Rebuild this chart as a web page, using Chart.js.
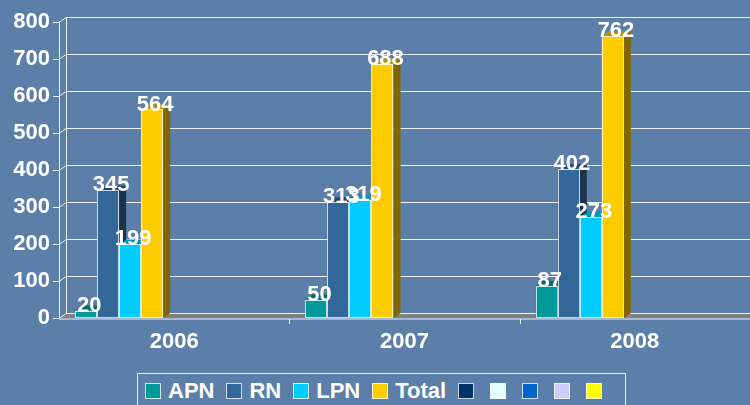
<!DOCTYPE html>
<html>
<head>
<meta charset="utf-8">
<script src="https://cdn.jsdelivr.net/npm/chart.js@4/dist/chart.umd.min.js"></script>
<style>
  html, body { margin: 0; padding: 0; }
  body { width: 750px; height: 405px; overflow: hidden; background: #5b7fa8; position: relative;
         font-family: "Liberation Sans", Arial, sans-serif; }
  #wrap { position: absolute; left: 0; top: 0; width: 750px; height: 360px; }
  #legend { position: absolute; left: 137px; top: 373px; width: 489px; height: 40px;
            border: 1px solid rgba(255,255,255,0.85); box-sizing: border-box;
            display: flex; align-items: flex-start; padding: 9px 0 0 7px; }
  .lg-item { display: flex; align-items: center; margin-right: 12px; }
  .lg-item.empty { margin-right: 16px; }
  .lg-box { width: 14px; height: 14px; border: 1px solid rgba(255,255,255,0.8); }
  .lg-text { margin-left: 7px; color: #fff; font-weight: bold; font-size: 22px; line-height: 16px; }
</style>
</head>
<body>
<div id="wrap"><canvas id="chart"></canvas></div>
<div id="legend"></div>
<script>
/* ── Datos ── */
var years     = ['2006', '2007', '2008'];
var seriesNames = ['APN', 'RN', 'LPN', 'Total', '', '', '', '', ''];
var apn       = [20, 50, 87];
var rn        = [345, 313, 402];
var lpn       = [199, 319, 273];
var total     = [564, 688, 762];
var emptyVals = [null, null, null];
var yTicks    = [0, 100, 200, 300, 400, 500, 600, 700, 800];

var seriesColors = ['#009999', '#336699', '#00ccff', '#ffcc00', '#003366', '#e0ffff', '#0066cc', '#ccccff', '#ffff00'];
var seriesData   = [apn, rn, lpn, total, emptyVals, emptyVals, emptyVals, emptyVals, emptyVals];

var DX = 7, DY = 5;

function shade(hex, f) {
  var n = parseInt(hex.slice(1), 16);
  var r = Math.round(((n >> 16) & 255) * f), g = Math.round(((n >> 8) & 255) * f), b = Math.round((n & 255) * f);
  return 'rgb(' + r + ',' + g + ',' + b + ')';
}

/* ── Pared, piso y eje 3D ── */
var wallPlugin = {
  id: 'wall',
  beforeDatasetsDraw: function(chart) {
    var c = chart.ctx, a = chart.chartArea, y = chart.scales.y;
    var x0 = a.left;
    c.save();
    /* piso */
    var yb = y.getPixelForValue(0);
    c.fillStyle = '#808080';
    c.beginPath();
    c.moveTo(x0, yb); c.lineTo(x0 + DX, yb - DY); c.lineTo(a.right, yb - DY); c.lineTo(a.right, yb);
    c.closePath(); c.fill();
    c.strokeStyle = 'rgba(255,255,255,0.9)';
    c.lineWidth = 1;
    yTicks.forEach(function(v) {
      var py = Math.round(y.getPixelForValue(v)) + 0.5;
      c.beginPath();
      c.moveTo(x0 - 6, py); c.lineTo(x0, py);
      c.lineTo(x0 + DX, py - DY); c.lineTo(a.right, py - DY);
      c.stroke();
    });
    /* líneas verticales del eje */
    var yt = Math.round(y.getPixelForValue(800)) + 0.5;
    c.beginPath();
    c.moveTo(x0 + 0.5, yb + 0.5); c.lineTo(x0 + 0.5, yt);
    c.moveTo(x0 + DX + 0.5, yb - DY); c.lineTo(x0 + DX + 0.5, yt - DY);
    c.moveTo(x0, yb + 1); c.lineTo(a.right, yb + 1);
    c.stroke();
    /* marcas de categoría */
    var xs = chart.scales.x;
    for (var i = 1; i < years.length; i++) {
      var px = Math.round((xs.getPixelForValue(i - 1) + xs.getPixelForValue(i)) / 2) + 0.5;
      c.beginPath(); c.moveTo(px, yb + 1); c.lineTo(px, yb + 6); c.stroke();
    }
    c.restore();
  },
  afterDatasetsDraw: function(chart) {
    var c = chart.ctx;
    c.save();
    var metas = chart.data.datasets.map(function(_, i) { return chart.getDatasetMeta(i); });
    /* barras con cara lateral y superior */
    metas.forEach(function(meta, di) {
      var col = seriesColors[di];
      meta.data.forEach(function(bar, j) {
        if (seriesData[di][j] == null) return;
        var p = bar.getProps(['x', 'y', 'base', 'width'], true);
        var l = p.x - p.width / 2, r = p.x + p.width / 2, t = p.y, b = p.base;
        c.fillStyle = col;
        c.fillRect(l, t, r - l, b - t);
        c.fillStyle = shade(col, 0.5);
        c.beginPath();
        c.moveTo(r, t); c.lineTo(r + DX, t - DY); c.lineTo(r + DX, b - DY); c.lineTo(r, b);
        c.closePath(); c.fill();
        c.fillStyle = shade(col, 0.72);
        c.beginPath();
        c.moveTo(l, t); c.lineTo(l + DX, t - DY); c.lineTo(r + DX, t - DY); c.lineTo(r, t);
        c.closePath(); c.fill();
        c.strokeStyle = 'rgba(255,255,255,0.75)';
        c.lineWidth = 1;
        c.strokeRect(Math.round(l) + 0.5, Math.round(t) + 0.5, Math.round(r - l) - 1, Math.round(b - t) - 1);
      });
    });
    /* etiquetas de valores */
    c.fillStyle = '#ffffff';
    c.font = 'bold 22px "Liberation Sans", Arial, sans-serif';
    c.textAlign = 'center';
    c.textBaseline = 'middle';
    metas.forEach(function(meta, di) {
      meta.data.forEach(function(bar, j) {
        var v = seriesData[di][j];
        if (v == null) return;
        c.fillText(String(v), bar.x + 3, bar.y - 5);
      });
    });
    c.restore();
  }
};

var datasets = seriesNames.map(function(name, i) {
  return {
    label: name,
    data: seriesData[i],
    backgroundColor: 'rgba(0,0,0,0)',
    borderWidth: 0,
    barPercentage: 1,
    categoryPercentage: 0.86
  };
});

new Chart(document.getElementById('chart'), {
  type: 'bar',
  data: { labels: years, datasets: datasets },
  options: {
    responsive: true,
    maintainAspectRatio: false,
    animation: false,
    layout: { padding: { top: 18, right: 0, left: 0, bottom: 0 } },
    plugins: { legend: { display: false }, tooltip: { enabled: false } },
    scales: {
      x: {
        grid: { display: false, drawTicks: false },
        border: { display: false },
        ticks: { color: '#ffffff', padding: 11, font: { family: '"Liberation Sans", Arial, sans-serif', size: 22, weight: 'bold' } },
        afterFit: function(s) { s.height = 42; }
      },
      y: {
        min: 0, max: 800,
        grid: { display: false, drawTicks: false },
        border: { display: false },
        ticks: { stepSize: 100, color: '#ffffff', padding: 9, font: { family: '"Liberation Sans", Arial, sans-serif', size: 22, weight: 'bold' } },
        afterFit: function(s) { s.width = 59; }
      }
    }
  },
  plugins: [wallPlugin]
});

/* ── Leyenda ── */
var legendEl = document.getElementById('legend');
seriesNames.forEach(function(name, i) {
  var item = document.createElement('div');
  item.className = 'lg-item' + (name ? '' : ' empty');
  var box = document.createElement('div');
  box.className = 'lg-box';
  box.style.background = seriesColors[i];
  item.appendChild(box);
  if (name) {
    var t = document.createElement('span');
    t.className = 'lg-text';
    t.textContent = name;
    item.appendChild(t);
  }
  legendEl.appendChild(item);
});
</script>
</body>
</html>
